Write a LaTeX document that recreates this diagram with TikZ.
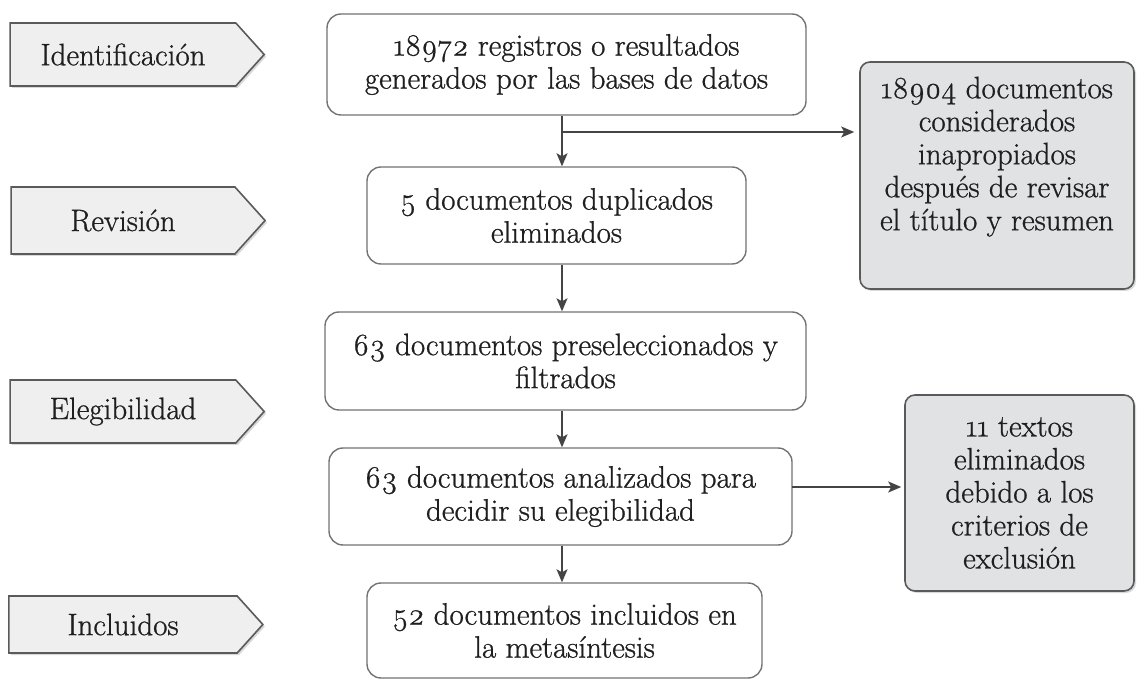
\documentclass[tikz,border=0pt]{standalone}
\usepackage{fontspec}
\setmainfont{Latin Modern Roman}[Numbers=OldStyle,FakeBold=0.8]
\usetikzlibrary{shapes.symbols,shadows,arrows.meta}
\definecolor{edgegray}{HTML}{5A5A5A}
\definecolor{boxgray}{HTML}{E1E2E4}
\definecolor{stagegray}{HTML}{EFEFEF}
\definecolor{linegray}{HTML}{444444}

\begin{document}
\begin{tikzpicture}[x=1pt,y=1pt,
  txt/.style={font=\fontsize{31}{33}\selectfont, align=center, text=black!88},
  stage/.style={txt, signal, signal to=east, signal pointer angle=96, draw=edgegray, line width=1.6pt, fill=stagegray, drop shadow={opacity=0.3, shadow xshift=2pt, shadow yshift=-2pt}, minimum width=254, inner sep=0pt},
  flow/.style={txt, draw=edgegray!85, line width=1.4pt, rounded corners=14pt, fill=white, inner sep=0pt},
  note/.style={txt, draw=edgegray, line width=1.6pt, rounded corners=10pt, fill=boxgray, drop shadow={opacity=0.3, shadow xshift=2pt, shadow yshift=-2pt}, inner sep=0pt},
  link/.style={draw=linegray, line width=1.5pt, -{Stealth[length=13pt,width=11pt,inset=3pt]}}]
    \useasboundingbox (0,0) rectangle (1137,680);

    \node[stage, minimum height=63] (ident) at (123,625.5) {Identificación};
    \node[stage, minimum height=67] (revis) at (123,459.5) {Revisión};
    \node[stage, minimum height=63] (elegi) at (123,268.5) {Elegibilidad};
    \node[stage, minimum height=57] (inclu) at (123,55.5) {Incluidos};

    \node[flow, minimum width=479, minimum height=101] (regs) at (566.5,615.5) {18972 registros o resultados\\generados por las bases de datos};
    \node[flow, minimum width=379, minimum height=97] (dupl) at (556.5,464.5) {5 documentos duplicados\\eliminados};
    \node[flow, minimum width=481, minimum height=98] (presel) at (565.5,319) {63 documentos preseleccionados y\\filtrados};
    \node[flow, minimum width=463, minimum height=97] (anal) at (560.5,183.5) {63 documentos analizados para\\decidir su elegibilidad};
    \node[flow, minimum width=395, minimum height=95] (incl) at (564.5,49.5) {52 documentos incluidos en\\la metasíntesis};

    \node[note, minimum width=274, minimum height=227, text depth=44pt] (inapr) at (997,504.5) {18904 documentos\\considerados\\inapropiados\\después de revisar\\el título y resumen};
    \node[note, minimum width=229, minimum height=196] (excl) at (1019.5,187) {11 textos\\eliminados\\debido a los\\criterios de\\exclusión};

    \coordinate (spine) at (562,0);
    \coordinate (fork) at (562,548);
    \coordinate (gate) at (792,193);

    \draw[link] (regs.south -| spine) -- (dupl.north -| spine);
    \draw[link] (dupl.south -| spine) -- (presel.north -| spine);
    \draw[link] (presel.south -| spine) -- (anal.north -| spine);
    \draw[link] (anal.south -| spine) -- (incl.north -| spine);
    \draw[link, shorten >=5pt] (fork) -- (fork -| inapr.west);
    \draw[link, shorten >=3pt] (gate) -- (gate -| excl.west);
\end{tikzpicture}
\end{document}
